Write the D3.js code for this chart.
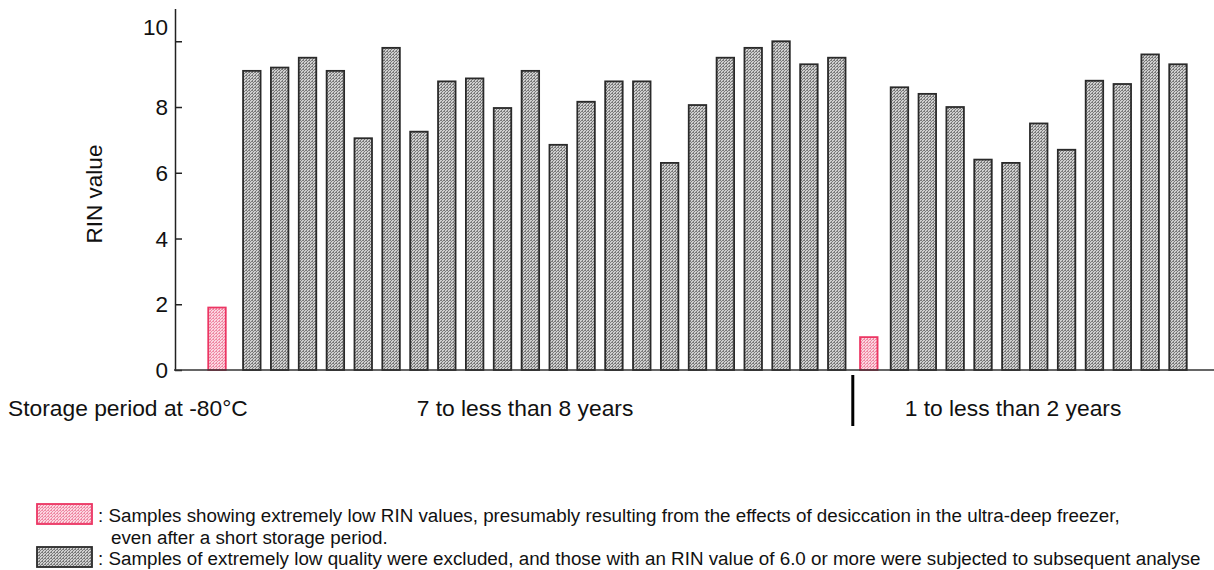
<!DOCTYPE html>
<html>
<head>
<meta charset="utf-8">
<script src="https://cdn.jsdelivr.net/npm/d3@7"></script>
<style>
  body { margin: 0; background: #fff; }
  svg { font-family: "Liberation Sans", Arial, sans-serif; }
</style>
</head>
<body>
<div id="chart"></div>
<script>
//data
let groupNames = ["7 to less than 8 years", "1 to less than 2 years"];
let lowRin = [1.9, 1.0];   //pink bars, one per storage group
let group1Rin = [9.1, 9.2, 9.5, 9.1, 7.05, 9.8, 7.25, 8.78, 8.87, 7.97, 9.1, 6.85, 8.16, 8.78, 8.78, 6.3, 8.06, 9.5, 9.8, 10.0, 9.3, 9.5];
let group2Rin = [8.6, 8.4, 8.0, 6.4, 6.3, 7.5, 6.7, 8.8, 8.7, 9.6, 9.3];
let yTicks = [0, 2, 4, 6, 8, 10];
let legendText = [
    [": Samples showing extremely low RIN values, presumably resulting from the effects of desiccation in the ultra-deep freezer,",
     "even after a short storage period."],
    [": Samples of extremely low quality were excluded, and those with an RIN value of 6.0 or more were subjected to subsequent analyse"]
];

//size
let svgWidth = 1214;
let svgHeight = 570;

//layout gaps (in bar slots)
let pinkGap = [1.25, 1.1];
let groupGap = 1.15;

//build bar list
let bars = [];
let slot = 0;
let separatorSlot = 0;
[group1Rin, group2Rin].forEach(function(vals, g) {
    if (g > 0) {
        separatorSlot = slot + groupGap / 2;
        slot += groupGap;
    }
    bars.push({ slot: slot, value: lowRin[g], low: true });
    slot += pinkGap[g];
    vals.forEach(function(v, j) {
        bars.push({ slot: slot, value: v, low: false });
        if (j < vals.length - 1) slot += 1;
    });
});
let lastSlot = slot;

//scales
let x = d3.scaleLinear().domain([0, lastSlot]).range([217, 1178]);
let y = d3.scaleLinear().domain([0, 11]).range([370, 8.4]);
let barWidth = 17.5;

let svg = d3.select("#chart")
    .append("svg")
    .attr("width", svgWidth)
    .attr("height", svgHeight);

//stipple patterns
let defs = svg.append("defs");
function makePattern(id, bg, fg) {
    let p = defs.append("pattern")
        .attr("id", id)
        .attr("patternUnits", "userSpaceOnUse")
        .attr("width", 3)
        .attr("height", 3);
    p.append("rect").attr("width", 3).attr("height", 3).attr("fill", bg);
    p.append("path")
        .attr("d", "M0,3 L3,0 M-1,1 L1,-1 M2,4 L4,2")
        .attr("stroke", fg)
        .attr("stroke-width", 1);
    p.append("rect").attr("x", 0).attr("y", 0).attr("width", 1).attr("height", 1).attr("fill", fg);
}
makePattern("grayHatch", "#cfcfcf", "#7a7a7a");
makePattern("pinkHatch", "#fbd6e0", "#ef8aa5");

//bars
svg.selectAll("rect.bar")
    .data(bars)
    .enter()
    .append("rect")
    .attr("class", "bar")
    .attr("x", function(d) { return x(d.slot) - barWidth / 2; })
    .attr("y", function(d) { return y(d.value); })
    .attr("width", barWidth)
    .attr("height", function(d) { return y(0) - y(d.value); })
    .attr("fill", function(d) { return d.low ? "url(#pinkHatch)" : "url(#grayHatch)"; })
    .attr("stroke", function(d) { return d.low ? "#ec3563" : "#2a2a2a"; })
    .attr("stroke-width", 1.8);

//y axis
let yAxis = d3.axisLeft(y).tickValues(yTicks).tickSizeInner(-7).tickSizeOuter(0).tickPadding(7);
let yG = svg.append("g")
    .attr("transform", "translate(175,0)")
    .call(yAxis);
yG.select(".domain").attr("stroke", "#222").attr("stroke-width", 1.5);
yG.selectAll(".tick line").attr("stroke", "#222").attr("stroke-width", 1.5);
yG.selectAll(".tick text")
    .attr("fill", "#111")
    .style("font-size", "22.5px")
    .attr("dy", function(d) { return d === 10 ? "-0.32em" : "0.34em"; });

//x baseline
svg.append("line")
    .attr("x1", 174).attr("x2", svgWidth)
    .attr("y1", y(0)).attr("y2", y(0))
    .attr("stroke", "#333")
    .attr("stroke-width", 1.5);

//y label
svg.append("text")
    .attr("transform", "translate(102," + 194 + ") rotate(-90)")
    .style("text-anchor", "middle")
    .style("font-size", "22.5px")
    .attr("fill", "#111")
    .text("RIN value");

//group separator
svg.append("line")
    .attr("x1", x(separatorSlot)).attr("x2", x(separatorSlot))
    .attr("y1", 375).attr("y2", 426)
    .attr("stroke", "#000")
    .attr("stroke-width", 3);

//storage labels
svg.append("text")
    .attr("x", 8).attr("y", 416)
    .style("font-size", "22.8px")
    .attr("fill", "#111")
    .text("Storage period at -80\u00B0C");

let labelCenters = [525, 1013];
groupNames.forEach(function(name, i) {
    svg.append("text")
        .attr("x", labelCenters[i]).attr("y", 416)
        .style("text-anchor", "middle")
        .style("font-size", "22.8px")
        .attr("fill", "#111")
        .text(name);
});

//legend
let legendY = [504, 547];
let legendStroke = ["#ec3563", "#2a2a2a"];
let legendFill = ["url(#pinkHatch)", "url(#grayHatch)"];
legendText.forEach(function(lines, i) {
    svg.append("rect")
        .attr("x", 37).attr("y", legendY[i])
        .attr("width", 55).attr("height", 20)
        .attr("fill", legendFill[i])
        .attr("stroke", legendStroke[i])
        .attr("stroke-width", 1.8);
    lines.forEach(function(t, k) {
        svg.append("text")
            .attr("x", k === 0 ? 98 : 111)
            .attr("y", legendY[i] + 18 + k * 22)
            .style("font-size", "18.8px")
            .attr("fill", "#111")
            .text(t);
    });
});
</script>
</body>
</html>
